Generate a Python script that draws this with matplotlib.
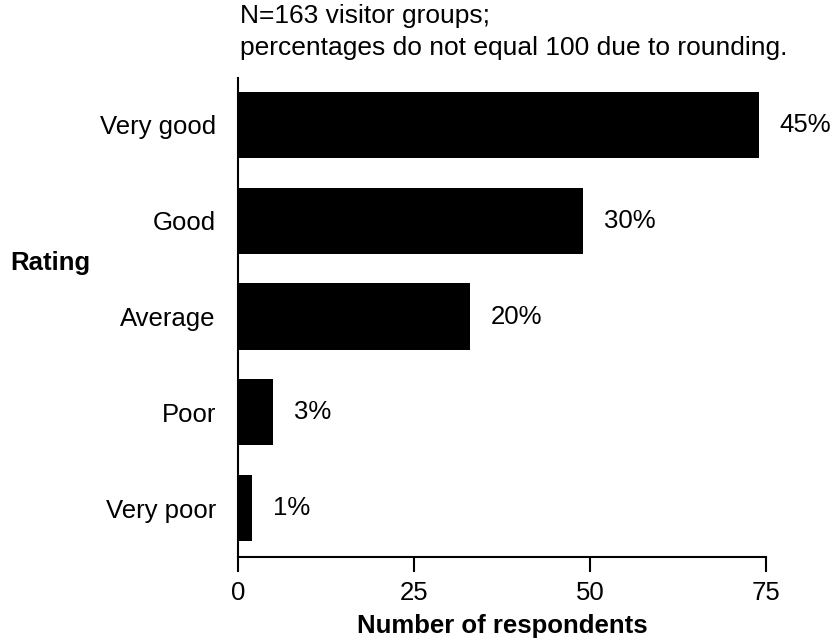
import matplotlib.pyplot as plt

plt.rcParams['font.family'] = ['Liberation Sans', 'DejaVu Sans']

ratings = ["Very good", "Good", "Average", "Poor", "Very poor"]
counts = [74, 49, 33, 5, 2]
pct_labels = ["45%", "30%", "20%", "3%", "1%"]
xticks = [0, 25, 50, 75]

fig = plt.figure(figsize=(8.35, 6.44), dpi=100)
ax = fig.add_axes([238/835, 1 - 557/644, (766 - 238)/835, (557 - 78)/644])

ypos = list(range(len(ratings)))[::-1]
ax.barh(ypos, counts, height=0.69, color="black")

for y, c, lab in zip(ypos, counts, pct_labels):
    ax.annotate(lab, (c, y), xytext=(15, 0), textcoords="offset points",
                ha="left", va="center", fontsize=18.5)

ax.set_xlim(0, 75)
ax.set_ylim(-0.51, 4.49)
ax.set_xticks(xticks)
ax.set_yticks(ypos)
ax.set_yticklabels(ratings)
ax.tick_params(axis="y", length=0, pad=16, labelsize=18.5)
ax.tick_params(axis="x", length=11, width=1.5, direction="out", pad=6, labelsize=18.5)

for s in ["top", "right"]:
    ax.spines[s].set_visible(False)
for s in ["left", "bottom"]:
    ax.spines[s].set_linewidth(1.5)

ax.set_xlabel("Number of respondents", fontsize=18.5, fontweight="bold", labelpad=7)

fig.text(10/835, 1 - 263/644, "Rating", fontsize=18.5, fontweight="bold",
         ha="left", va="center")
fig.text(240/835, 1 - 23/644, "N=163 visitor groups;",
         fontsize=19, ha="left", va="baseline")
fig.text(240/835, 1 - 55/644, "percentages do not equal 100 due to rounding.",
         fontsize=19, ha="left", va="baseline")

fig.savefig("out.png", dpi=100)
